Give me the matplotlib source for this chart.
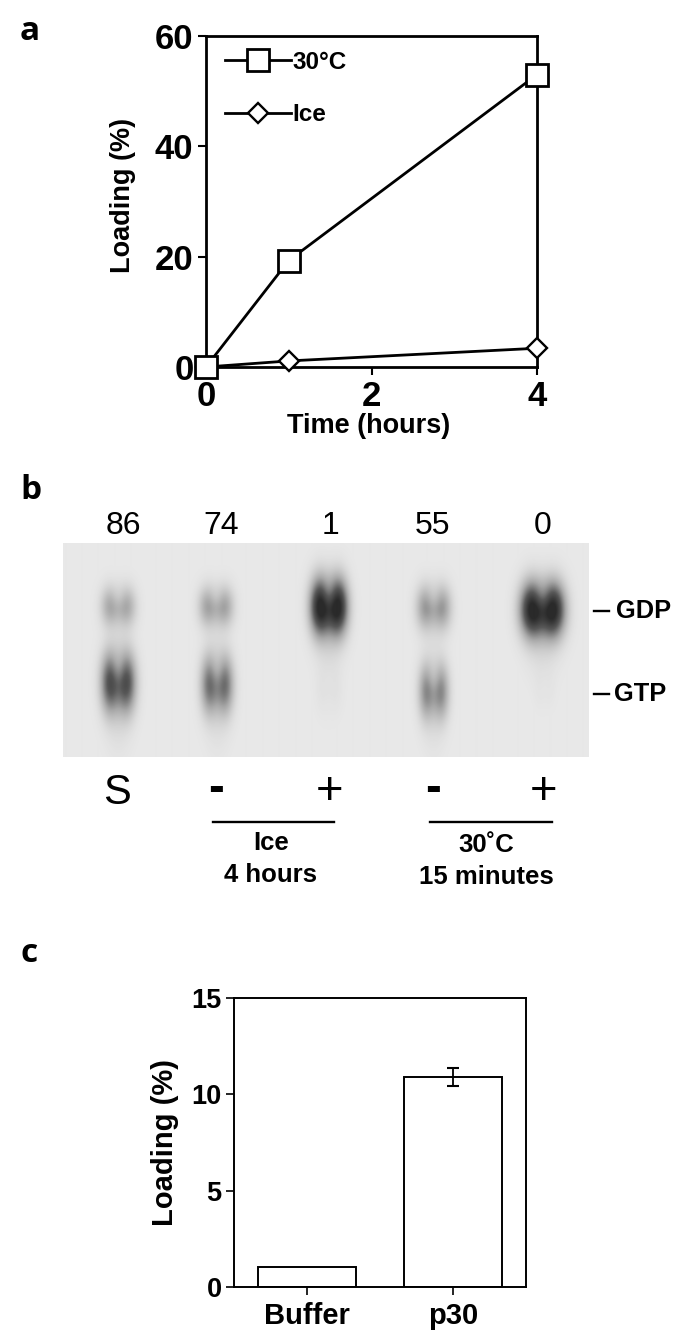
import numpy as np
import matplotlib
matplotlib.use("Agg")
import matplotlib.pyplot as plt
from matplotlib.colors import LinearSegmentedColormap

W, H = 700, 1341
SANS = ["Liberation Sans", "DejaVu Sans"]
LETTER = ["Open Sans", "DejaVu Sans"]
plt.rcParams["font.family"] = SANS

# Panel a
time_hours = [0, 1, 4]
warm_loading = [0, 19.3, 53]
ice_loading = [0, 1.1, 3.4]
a_xticks = [0, 2, 4]
a_yticks = [0, 20, 40, 60]

# Panel b: lane positions and band strengths read from the gel
percent_labels = ["86", "74", "1", "55", "0"]
percent_lanes = [123, 221, 331, 433, 543]
treatment_labels = ["S", "-", "+", "-", "+"]
treatment_lanes = [117, 216, 330, 433, 544]
gdp_lanes = [118, 216, 329, 434, 543]
gdp_rows = [607, 607, 607, 608, 610]
gdp_strength = [0.33, 0.36, 1.08, 0.40, 1.08]
gdp_width = [15, 15, 16, 15, 19]
gdp_height = [19, 19, 27, 21, 26]
gtp_lanes = [118, 217, 329, 434, 545]
gtp_rows = [683, 685, 690, 692, 690]
gtp_strength = [0.74, 0.58, 0.03, 0.47, 0.015]
gtp_width = [15, 14, 12, 13, 10]
gtp_height = [29, 28, 24, 27, 20]

# Panel c
c_categories = ["Buffer", "p30"]
c_values = [1.05, 10.9]
c_errors = [0, 0.47]
c_yticks = [0, 5, 10, 15]


def axes_px(fig, left, top, right, bottom):
    return fig.add_axes([left / W, 1 - bottom / H, (right - left) / W, (bottom - top) / H])


fig = plt.figure(figsize=(W / 100, H / 100), dpi=100, facecolor="white")

# ---------- a ----------
ax = axes_px(fig, 206, 36, 537, 367)
lw = 2.0
ax.plot(time_hours, warm_loading, "-s", color="black", lw=lw, ms=15.5, mfc="white", mew=2.0,
        clip_on=False, zorder=5, label="30°C")
ax.plot(time_hours, ice_loading, "-D", color="black", lw=lw, ms=10.5, mfc="white", mew=1.7,
        clip_on=False, zorder=3, label="Ice")
ax.set_xlim(0, 4)
ax.set_ylim(0, 60)
ax.set_xticks(a_xticks)
ax.set_yticks(a_yticks)
for s in ax.spines.values():
    s.set_linewidth(2.0)
ax.tick_params(axis="both", width=1.5, length=6, labelsize=25, pad=3)
for t in ax.get_xticklabels() + ax.get_yticklabels():
    t.set_fontweight("bold")
ax.set_xlabel("Time (hours)", fontsize=19.5, fontweight="bold")
ax.xaxis.set_label_coords(0.49, -0.139)
ax.set_ylabel("Loading (%)", fontsize=19.5, fontweight="bold")
ax.yaxis.set_label_coords(-0.21, 0.517)
ax.legend(loc="upper left", frameon=False, prop={"size": 17.5, "weight": "bold"}, numpoints=1,
          handlelength=2.72, handletextpad=0.08, labelspacing=1.22,
          bbox_to_anchor=(0.027, 0.985), borderaxespad=0)

# ---------- b ----------
gx = axes_px(fig, 63, 543, 589, 757)
xs = np.arange(63, 590)
ys = np.arange(543, 758)
X, Y = np.meshgrid(xs, ys)
dark = np.zeros_like(X, dtype=float)


def add_band(cx, cy, width, strength, height, tail_at):
    lobes = (np.exp(-((X - cx + width * .55) / (width * .62)) ** 2)
             + np.exp(-((X - cx - width * .55) / (width * .62)) ** 2))
    lobes = lobes / lobes.max()
    notch = 1 - 0.25 * np.exp(-((Y - cy + height * .6) / (height * .6)) ** 2) * np.exp(-((X - cx) / (width * .45)) ** 2)
    prof = np.exp(-((Y - cy) / height) ** 2)
    tail = 0.08 * np.exp(-((Y - cy - tail_at) / (height * 1.4)) ** 2) * np.exp(-((X - cx) / (width * .8)) ** 2)
    return strength * (lobes * prof * notch + tail)


for cx_, cy_, s_, w_, h_ in zip(gdp_lanes, gdp_rows, gdp_strength, gdp_width, gdp_height):
    dark += add_band(cx_, cy_, w_, s_, h_, 26)
for cx_, cy_, s_, w_, h_ in zip(gtp_lanes, gtp_rows, gtp_strength, gtp_width, gtp_height):
    dark += add_band(cx_, cy_, w_, s_, h_, 30)
dark = np.clip(dark, 0, 1)
cmap = LinearSegmentedColormap.from_list("gel", ["#e8e8e8", "#a8a8a8", "#585858", "#2a2a2a"])
gx.imshow(dark, extent=(63, 589, 757, 543), cmap=cmap, vmin=0, vmax=1, aspect="auto", interpolation="bilinear")
gx.set_axis_off()

# overlay in pixel coordinates for annotations
ov = fig.add_axes([0, 0, 1, 1], facecolor="none")
ov.set_xlim(0, W)
ov.set_ylim(H, 0)
ov.set_axis_off()

for x, lab in zip(percent_lanes, percent_labels):
    ov.text(x, 526, lab, ha="center", va="center", fontsize=23)
for x, lab in zip(treatment_lanes, treatment_labels):
    ov.text(x, {"S": 793, "-": 789, "+": 792}[lab], lab, ha="center", va="center",
            fontsize={"S": 30, "-": 34, "+": 34}[lab], fontweight="bold" if lab == "-" else "normal")
for (x0, x1) in [(213, 334), (430, 552)]:
    ov.plot([x0, x1], [822, 822], color="black", lw=1.7)
ov.text(271, 843, "Ice", ha="center", va="center", fontsize=18.5, fontweight="bold")
ov.text(271, 875, "4 hours", ha="center", va="center", fontsize=18.5, fontweight="bold")
ov.text(486, 845, "30˚C", ha="center", va="center", fontsize=18.5, fontweight="bold")
ov.text(486, 877, "15 minutes", ha="center", va="center", fontsize=18.5, fontweight="bold")
for y, lab, tx in [(611, "GDP", 616), (694, "GTP", 614)]:
    ov.plot([594, 609], [y, y], color="black", lw=1.7)
    ov.text(tx, y, lab, ha="left", va="center", fontsize=18.3, fontweight="bold")

for y, lab in [(31, "a"), (490, "b"), (953, "c")]:
    ov.text(20, y, lab, ha="left", va="center", fontsize=24, fontweight="bold", family=LETTER)

# ---------- c ----------
cx = axes_px(fig, 234, 998, 526, 1287)
pos = np.arange(len(c_categories))
cx.bar(pos, c_values, width=0.678, color="white", edgecolor="black", linewidth=1.4, zorder=2)
cx.errorbar(pos[1:], c_values[1:], yerr=c_errors[1:], color="black", capsize=4.5, lw=1.3, capthick=1.5,
            ls="none", zorder=3)
cx.set_xlim(-0.5, 1.5)
cx.set_ylim(0, 15)
cx.set_xticks(pos, c_categories)
cx.set_yticks(c_yticks)
for s in cx.spines.values():
    s.set_linewidth(1.4)
cx.tick_params(axis="both", width=1.2, length=6, pad=5)
cx.tick_params(axis="y", labelsize=19.5, pad=3)
cx.tick_params(axis="x", labelsize=21)
for t in cx.get_xticklabels() + cx.get_yticklabels():
    t.set_fontweight("bold")
cx.set_ylabel("Loading (%)", fontsize=21, fontweight="bold")
cx.yaxis.set_label_coords(-0.19, 0.5)

fig.savefig("out.png", dpi=100)
